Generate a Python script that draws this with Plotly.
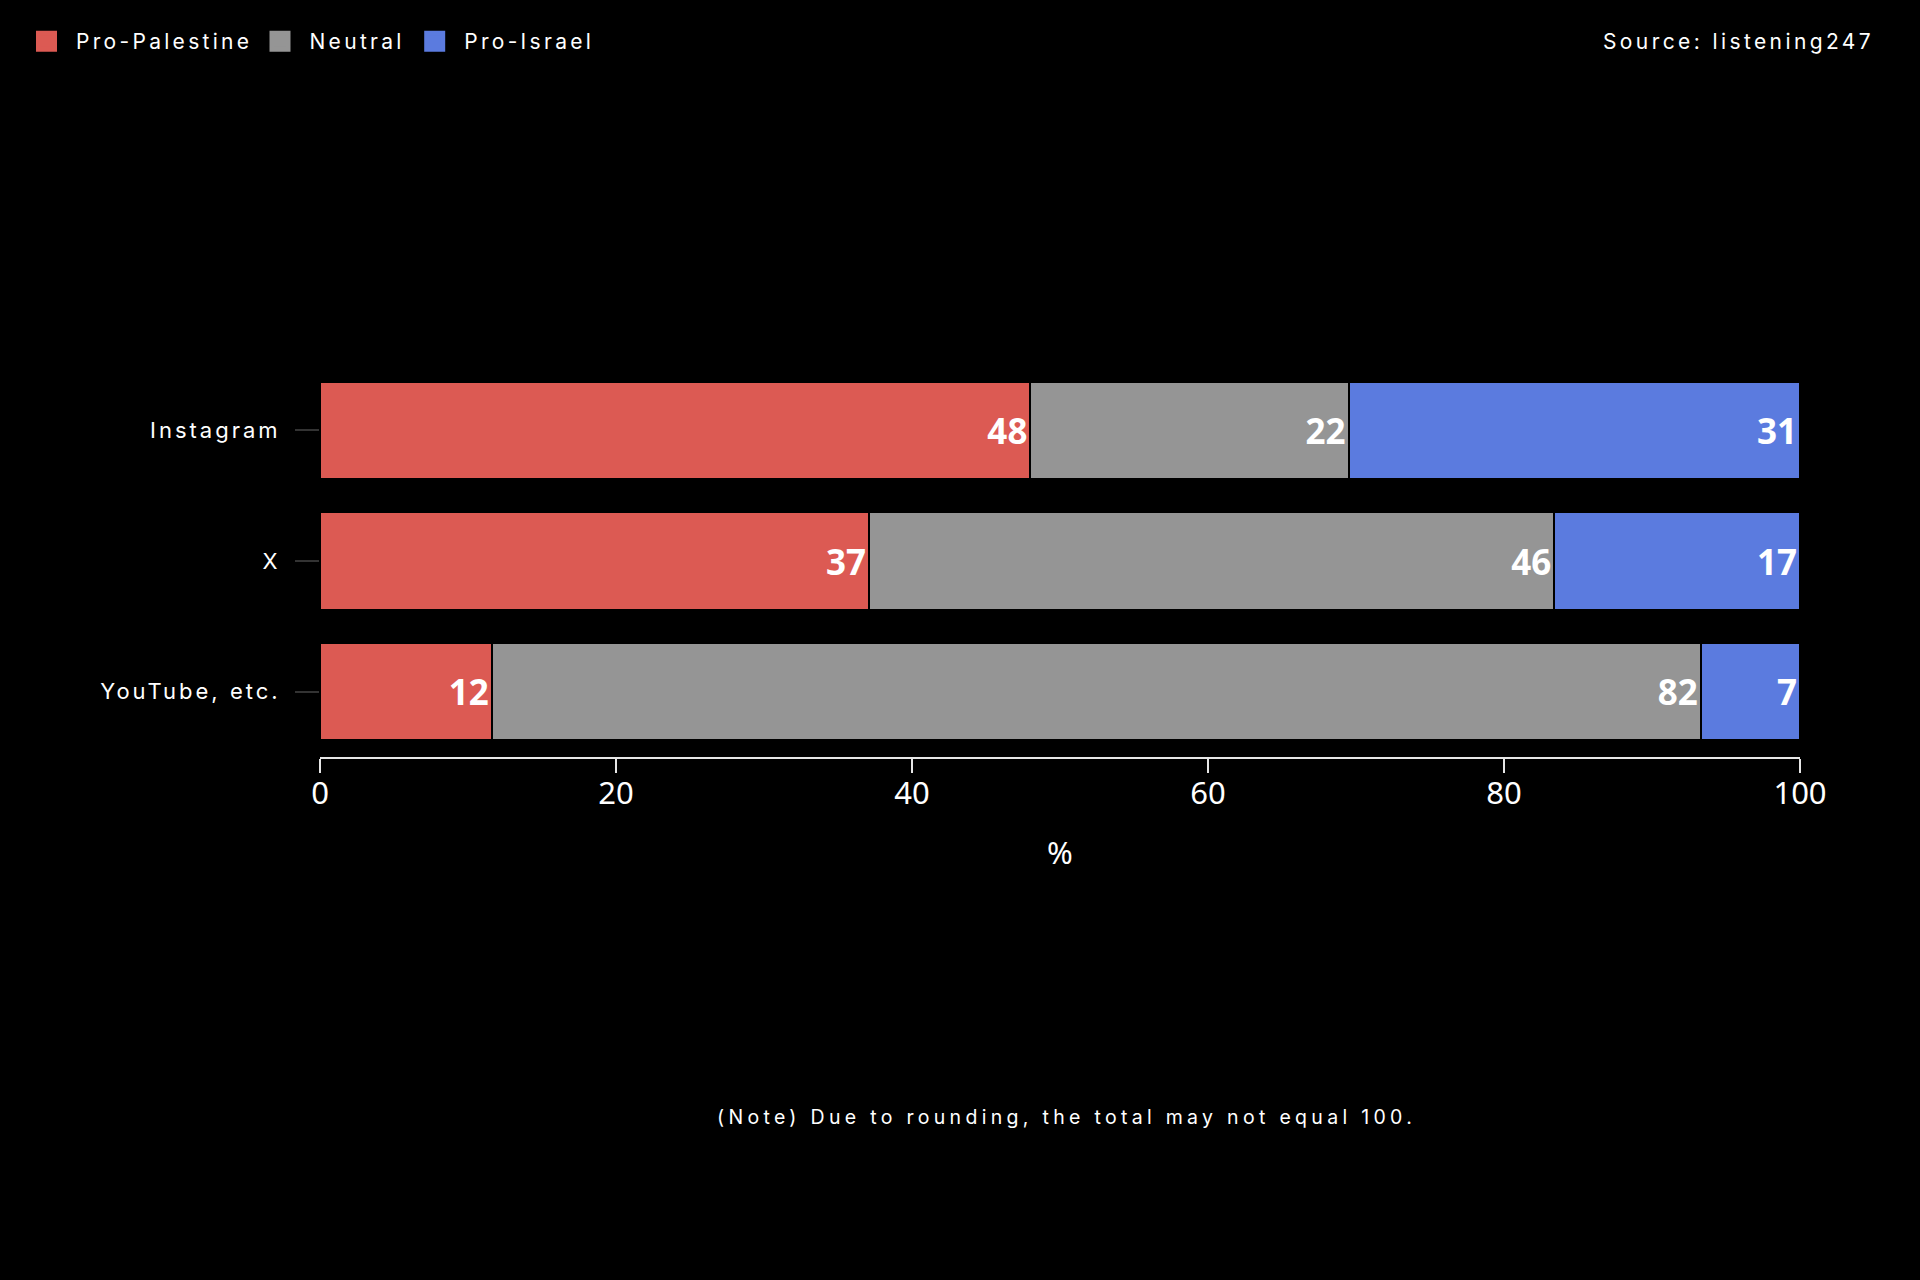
import plotly.graph_objects as go

# ---------------- data ----------------
categories = ["Instagram", "X", "YouTube, etc."]
series_names = ["Pro-Palestine", "Neutral", "Pro-Israel"]
pro_palestine = [48.0, 37.1, 11.6]
neutral = [21.5, 46.3, 81.7]
pro_israel = [30.5, 16.6, 6.7]
pro_palestine_labels = ["48", "37", "12"]
neutral_labels = ["22", "46", "82"]
pro_israel_labels = ["31", "17", "7"]
x_ticks = [0, 20, 40, 60, 80, 100]
source_text = "Source: listening247"
note_text = "(Note) Due to rounding, the total may not equal 100."
x_title = "%"

# ---------------- style ----------------
colors = ["#DC5A53", "#959595", "#5B7BDF"]
W, H = 1920, 1280
ML, MR, MT, MB = 320, 120, 365, 523
PW, PH = W - ML - MR, H - MT - MB


def spaced(t, px):
    return f'<span style="letter-spacing:{px}px">{t}</span>'


def px_to_paper_x(px):
    return (px - ML) / PW


def px_to_paper_y(py):
    return (H - MB - py) / PH


values = [pro_palestine, neutral, pro_israel]
labels = [pro_palestine_labels, neutral_labels, pro_israel_labels]
legend_ids = ["legend", "legend2", "legend3"]
legend_x_px = [17, 250.5, 405.2]

fig = go.Figure()
for name, vals, labs, col in zip(series_names, values, labels, colors):
    fig.add_trace(go.Bar(
        y=categories, x=vals, orientation="h", name=name,
        marker=dict(color=col, line=dict(color="black", width=2)),
        text=labs, textposition="inside", insidetextanchor="end", textangle=0,
        textfont=dict(family="Noto Sans", size=35, color="white", weight="bold"),
        showlegend=False, hoverinfo="x+y+name",
    ))

# legend-only entries (bigger square swatches)
for name, col, lid in zip(series_names, colors, legend_ids):
    fig.add_trace(go.Scatter(
        x=[None], y=[None], mode="markers", name=spaced(name, 3.3),
        marker=dict(symbol="square", size=16, color=col, line=dict(color=col, width=5)),
        legend=lid, showlegend=True, hoverinfo="skip",
    ))

legend_common = dict(
    orientation="h", xref="container", yref="container",
    xanchor="left", yanchor="middle", y=1 - 41.6 / H,
    font=dict(family="Inter", size=21, color="white"),
    bgcolor="rgba(0,0,0,0)", borderwidth=0, itemwidth=49, itemsizing="trace",
)

layout_legends = {}
for lid, lx in zip(legend_ids, legend_x_px):
    layout_legends[lid] = dict(legend_common, x=lx / W)

fig.update_layout(
    width=W, height=H,
    paper_bgcolor="black", plot_bgcolor="black",
    margin=dict(l=ML, r=MR, t=MT, b=MB, autoexpand=False),
    barmode="stack", bargap=0.257,
    font=dict(family="Inter", color="white"),
    **layout_legends,
)

fig.update_xaxes(
    range=[0, 100], tickvals=x_ticks, ticktext=[str(v) for v in x_ticks],
    showgrid=False, zeroline=False,
    showline=True, linecolor="#e6e6e6", linewidth=2,
    ticks="outside", ticklen=14, tickwidth=1.5, tickcolor="#e6e6e6",
    tickfont=dict(family="Noto Sans", size=31, color="white"),
    ticklabelstandoff=-6,
    title=dict(text=x_title, font=dict(family="Noto Sans", size=31, color="white"), standoff=30),
)

fig.update_yaxes(
    type="category", categoryorder="array", categoryarray=categories,
    range=[2.5, -0.5],
    tickvals=categories, ticktext=[spaced(c, 3) for c in categories],
    showgrid=False, zeroline=False, showline=False,
    ticks="outside", ticklen=24, tickwidth=2, tickcolor="#333333",
    tickfont=dict(family="Inter", size=22, color="white"),
    ticklabelstandoff=10,
)

fig.add_annotation(
    xref="paper", yref="paper", x=px_to_paper_x(1876), y=px_to_paper_y(41.7),
    xanchor="right", yanchor="middle", showarrow=False,
    text=spaced(source_text, 3.4),
    font=dict(family="Inter", size=21, color="white"),
)
fig.add_annotation(
    xref="paper", yref="paper", x=px_to_paper_x(1066), y=px_to_paper_y(1117),
    xanchor="center", yanchor="middle", showarrow=False,
    text=spaced(note_text, 4.3),
    font=dict(family="Inter", size=19.5, color="white"),
)

fig.write_html(
    "out.html",
    config={"displayModeBar": False},
    post_script="document.body.style.margin='0';document.body.style.background='black';",
)
